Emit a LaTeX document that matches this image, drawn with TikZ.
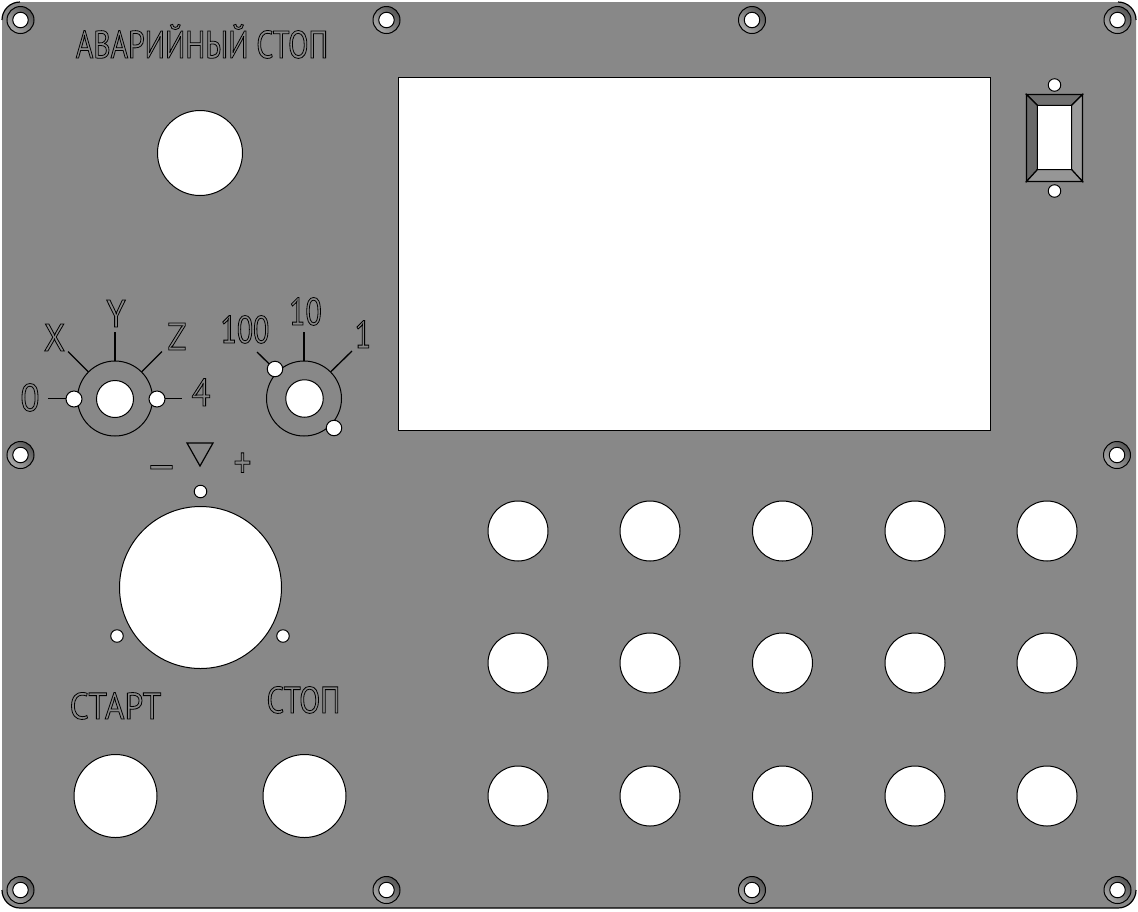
\documentclass[tikz,border=0pt]{standalone}
\usepackage{fontspec}
\setmainfont{PT Sans}
\newfontfamily\platefont[FakeStretch=0.77]{PT Sans}
\newfontfamily\platemid[FakeStretch=0.82]{PT Sans}
\newfontfamily\platewide[FakeStretch=0.9]{PT Sans}
\definecolor{plate}{RGB}{136,136,136}
\definecolor{ringdark}{RGB}{85,85,85}
\definecolor{ringlight}{RGB}{170,170,170}
\definecolor{bevtop}{RGB}{112,112,112}
\definecolor{bevleft}{RGB}{105,105,105}
\definecolor{bevright}{RGB}{155,155,155}
\definecolor{bevbot}{RGB}{150,150,150}
\newcommand{\outl}[1]{\special{pdf:code q 1 Tr 0.6 w 0 G}#1\special{pdf:code Q}}
\tikzset{x=0.75pt,y=-0.75pt,
  hole/.style={circle,draw=black,fill=white,line width=0.75pt,inner sep=0pt,outer sep=0pt,minimum size=#1*0.75pt},
  dialring/.style={circle,draw=black,line width=0.75pt,inner sep=0pt,outer sep=0pt,minimum size=#1*0.75pt},
  screwring/.style={circle,draw=black,line width=0.75pt,inner sep=0pt,outer sep=0pt,minimum size=27*0.75pt,left color=ringdark,right color=ringlight,shading angle=-45},
  tick/.style={draw=black,line width=1pt},
  engr/.style={inner sep=0pt,outer sep=0pt,anchor=base,font=\platefont\fontsize{#1}{#1}\selectfont},
  engrm/.style={inner sep=0pt,outer sep=0pt,anchor=base,font=\platemid\fontsize{#1}{#1}\selectfont},
  engrw/.style={inner sep=0pt,outer sep=0pt,anchor=base,font=\platewide\fontsize{#1}{#1}\selectfont},
  bevel/.style={draw=black,line width=0.9pt,fill=#1},
  edge/.style={draw=black,line width=0.9pt}}
\newcommand{\screw}[3]{%
  \node[screwring] (#1r) at (#2,#3) {};
  \node[hole=15.5] (#1) at (#2,#3) {};}
\begin{document}
\begin{tikzpicture}
\useasboundingbox (0,0) rectangle (1138,911);
\fill[white] (0,0) rectangle (1138,911);
% plate
\fill[plate,rounded corners=13.5pt] (2,2) rectangle (1136,908);
\draw[edge] (2,20) arc[start angle=180,end angle=90,radius=13.5pt];
\draw[edge] (1118,2) arc[start angle=90,end angle=0,radius=13.5pt];
\draw[edge] (2,890) arc[start angle=180,end angle=270,radius=13.5pt] -- (1118,908) arc[start angle=270,end angle=360,radius=13.5pt];
% screws
\foreach \n/\x/\y in {a/20.5/20,b/386.5/20,c/752/20,d/1117.5/20,e/20.5/455,f/1117/455,g/20.5/890,h/386.5/890,i/752/890,j/1117.5/890}{\screw{\n}{\x}{\y}}
% screen
\node[draw=black,fill=white,line width=0.9pt,inner sep=0pt,minimum width=592*0.75pt,minimum height=353*0.75pt] (screen) at (694.5,254) {};
% emergency stop
\node[hole=85] (estop) at (200,153) {};
\node[engr=29] (estopl) at (202,58) {\outl{АВАРИЙНЫЙ СТОП}};
% toggle
\coordinate (tnw) at (1026.5,94.5); \coordinate (tne) at (1082.5,94.5);
\coordinate (tse) at (1082.5,181.5); \coordinate (tsw) at (1026.5,181.5);
\coordinate (inw) at (1037.5,105.5); \coordinate (ine) at (1071.5,105.5);
\coordinate (ise) at (1071.5,169.5); \coordinate (isw) at (1037.5,169.5);
\draw[bevel=bevtop] (tnw)--(tne)--(ine)--(inw)--cycle;
\draw[bevel=bevleft] (tnw)--(inw)--(isw)--(tsw)--cycle;
\draw[bevel=bevright] (tne)--(tse)--(ise)--(ine)--cycle;
\draw[bevel=bevbot] (tsw)--(isw)--(ise)--(tse)--cycle;
\fill[white,draw=black,line width=0.9pt] (inw)--(ine)--(ise)--(isw)--cycle;
\node[hole=12.5] (tgt) at (1054.5,85) {};
\node[hole=12.5] (tgb) at (1054.5,191) {};
% left selector
\node[dialring=75] (sela) at (115,398.5) {};
\coordinate (t0) at (48,398.5); \coordinate (t4) at (182,398.5);
\coordinate (tx) at (68,351.5); \coordinate (ty) at (115,332); \coordinate (tz) at (162,351.5);
\draw[tick] (sela.west) -- (t0);
\draw[tick] (sela.east) -- (t4);
\draw[tick] (sela.135) -- (tx);
\draw[tick] (sela.north) -- (ty);
\draw[tick] (sela.45) -- (tz);
\node[hole=37] (selah) at (115,399) {};
\node[hole=16] (sela0) at (74,399) {};
\node[hole=16] (sela4) at (157,399) {};
\node[engrw=29] (l0) at (30,411) {\outl{0}};
\node[engrw=29] (lx) at (54.5,351) {\outl{X}};
\node[engrw=29] (ly) at (116,327) {\outl{Y}};
\node[engrw=29] (lz) at (177,350) {\outl{Z}};
\node[engrw=29] (l4) at (201,406) {\outl{4}};
% right selector
\node[dialring=75] (selb) at (304,398.5) {};
\coordinate (t100) at (257,352); \coordinate (t10) at (304,332); \coordinate (t1) at (352,351);
\draw[tick] (selb.135) -- (t100);
\draw[tick] (selb.north) -- (t10);
\draw[tick] (selb.45) -- (t1);
\node[hole=37.5] (selbh) at (304.5,398.5) {};
\node[hole=15.5] (selb1) at (275,369) {};
\node[hole=15.5] (selb2) at (334,428) {};
\node[engr=29] (l100) at (245,343) {\outl{100}};
\node[engr=29] (l10) at (305.5,325) {\outl{10}};
\node[engr=29] (l1) at (363,348) {\outl{1}};
% feed dial
\coordinate (tra) at (187,443); \coordinate (trb) at (213,443); \coordinate (trc) at (200,466);
\draw[edge] (tra)--(trb)--(trc)--cycle;
\node[engr=36] (lminus) at (161.5,481) {\outl{—}};
\node[engr=34] (lplus) at (242.5,478) {\outl{+}};
\node[hole=12.5] (dt) at (200.5,491.5) {};
\node[hole=162] (dial) at (200.5,587.5) {};
\node[hole=12.5] (dl) at (117,636) {};
\node[hole=12.5] (dr) at (283,636) {};
% start / stop
\node[engrw=28] (lstart) at (115.5,719) {\outl{СТАРТ}};
\node[engrm=28] (lstop) at (303.5,713) {\outl{СТОП}};
\node[hole=83] (start) at (115.5,796) {};
\node[hole=83] (stop) at (304.5,796) {};
% button grid
\foreach \c/\x in {1/518,2/650,3/782.5,4/915,5/1047}
  \foreach \r/\y in {1/531,2/663,3/796}
    \node[hole=60] (btn\r\c) at (\x,\y) {};
\end{tikzpicture}
\end{document}
